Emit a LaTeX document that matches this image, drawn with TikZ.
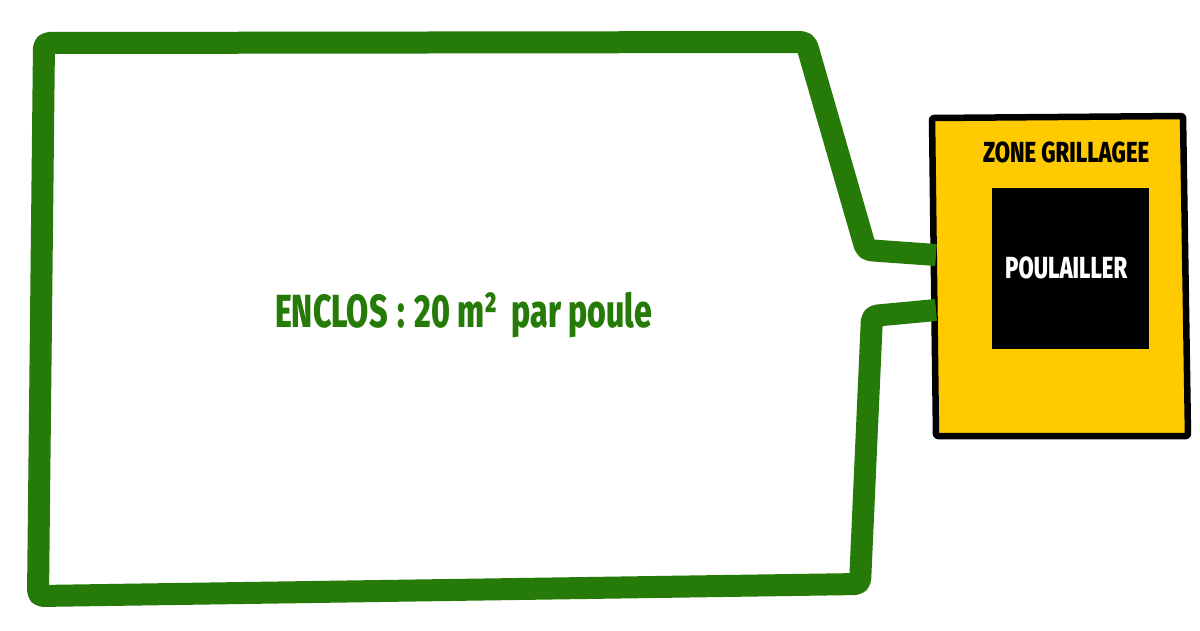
\documentclass[tikz,border=0pt]{standalone}
\usepackage{fontspec}
\setmainfont{Fira Sans}[BoldFont={Fira Sans ExtraBold}]
\definecolor{fence}{RGB}{38,122,8}
\definecolor{zone}{RGB}{255,202,0}
\tikzset{
  fenceline/.style={draw=fence, line width=22pt, line join=round, rounded corners=5pt},
  zonebox/.style={draw=black, fill=zone, line width=6.5pt, line join=round, rounded corners=2pt},
  label/.style={inner sep=0pt, anchor=base west, font=\bfseries}
}
\begin{document}
\begin{tikzpicture}[x=1pt,y=-1pt]
\useasboundingbox (0,0) rectangle (1200,630);
% zone grillagee
\coordinate (z1) at (932,118);
\coordinate (z2) at (1183,116);
\coordinate (z3) at (1188,436);
\coordinate (z4) at (936,436);
\draw[zonebox] (z1) -- (z2) -- (z3) -- (z4) -- cycle;
\fill[black] (992,188) rectangle (1149,349);
% enclos fence
\coordinate (a) at (936,255);
\coordinate (b) at (866,250);
\coordinate (c) at (806,42);
\coordinate (d) at (44,43);
\coordinate (e) at (38,596);
\coordinate (f) at (860,584);
\coordinate (g) at (872,316);
\coordinate (h) at (936,310);
\draw[fenceline] (a) -- (b) -- (c) -- (d) -- (e) -- (f) -- (g) -- (h);
% texts
\node[label, text=fence] (enclos) at (275,327)
  {\fontsize{46.4pt}{50pt}\selectfont\resizebox{377pt}{\height}{ENCLOS\hspace{0.3em}:\hspace{0.3em}20 m²\hspace{0.45em}par poule}};
\node[label, text=black] (zonetxt) at (983,162)
  {\fontsize{29pt}{32pt}\selectfont\resizebox{166pt}{\height}{ZONE GRILLAGEE}};
\node[label, text=white] (poul) at (1005,278)
  {\fontsize{30.5pt}{33pt}\selectfont\resizebox{122pt}{\height}{POULAILLER}};
\end{tikzpicture}
\end{document}
